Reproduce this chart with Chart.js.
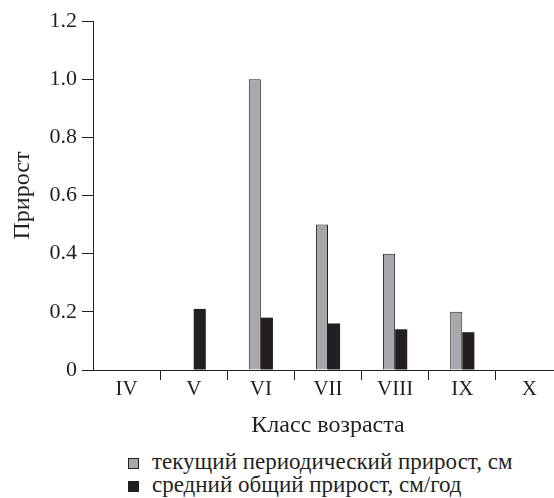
<!DOCTYPE html>
<html>
<head>
<meta charset="utf-8">
<script src="https://cdn.jsdelivr.net/npm/chart.js"></script>
<style>
  html, body { margin: 0; padding: 0; background: #fff; overflow: hidden; }
  #wrap { position: relative; width: 554px; height: 498px; overflow: hidden; }
  #growthChart { position: absolute; left: 0; top: 0; }
  #legend { position: absolute; left: 128px; top: 450px; font-family: 'Liberation Serif', serif; font-size: 23px; color: #231f20; line-height: 23px; }
  #legend .item { white-space: nowrap; }
  #legend .box { display: inline-block; width: 11px; height: 11px; margin-right: 13px; vertical-align: 0px; box-sizing: border-box; }
</style>
</head>
<body>
<div id="wrap">
  <canvas id="growthChart" width="563" height="440"></canvas>
  <div id="legend"></div>
</div>
<script>
var ageClasses   = ["IV", "V", "VI", "VII", "VIII", "IX", "X"];
var periodicGain = [0, 0, 1.0, 0.5, 0.4, 0.2, 0];
var meanGain     = [0, 0.21, 0.18, 0.16, 0.14, 0.13, 0];
var yTicks       = [0, 0.2, 0.4, 0.6, 0.8, 1.0, 1.2];

var seriesNames  = ["текущий периодический прирост, см", "средний общий прирост, см/год"];
var ink  = "#231f20",
    grey = "#a7a8ab";
var serif = "'Liberation Serif', serif";

Chart.defaults.font.family = serif;

var config = {
  type: 'bar',
  data: {
    labels: ageClasses,
    datasets: [{
      label: seriesNames[0],
      data: periodicGain,
      backgroundColor: grey,
      borderColor: ink,
      borderWidth: 1,
      borderSkipped: 'bottom'
    }, {
      label: seriesNames[1],
      data: meanGain,
      backgroundColor: ink,
      borderColor: ink,
      borderWidth: 0
    }]
  },
  options: {
    responsive: false,
    animation: false,
    categoryPercentage: 0.36,
    barPercentage: 1,
    layout: { padding: { top: 21, left: 0, right: 0, bottom: 0 } },
    plugins: {
      legend: { display: false },
      tooltip: { enabled: false }
    },
    scales: {
      x: {
        offset: true,
        border: { color: ink, width: 1 },
        grid: {
          offset: true,
          drawOnChartArea: false,
          drawTicks: true,
          tickLength: 10,
          color: function(ctx) { return ctx.index === 0 ? 'rgba(0,0,0,0)' : ink; }
        },
        ticks: { color: ink, font: { size: 21 }, padding: -3 },
        title: { display: true, text: 'Класс возраста', color: ink, font: { size: 24 }, padding: { top: 5, bottom: 0 } },
        afterFit: function(scale) { scale.height = 70; }
      },
      y: {
        min: 0,
        max: 1.2,
        afterBuildTicks: function(scale) {
          scale.ticks = yTicks.map(function(v) { return { value: v }; });
        },
        border: { color: ink, width: 1 },
        grid: { drawOnChartArea: false, drawTicks: true, tickLength: 11, color: ink },
        ticks: {
          color: ink,
          font: { size: 22 },
          padding: 5,
          callback: function(v) { return v === 0 ? '0' : Number(v).toFixed(1); }
        },
        title: { display: true, text: 'Прирост', color: ink, font: { size: 24 }, padding: { top: 8, bottom: 0 } },
        afterFit: function(scale) { scale.width = 93; }
      }
    }
  }
};

var ctx = document.getElementById('growthChart').getContext('2d');
var growthChart = new Chart(ctx, config);

// legend stacked in two left aligned rows, as in the figure
var legend = document.getElementById('legend');
config.data.datasets.forEach(function(ds) {
  var row = document.createElement('div');
  row.className = 'item';
  var box = document.createElement('span');
  box.className = 'box';
  box.style.background = ds.backgroundColor;
  box.style.border = '1px solid ' + ink;
  row.appendChild(box);
  row.appendChild(document.createTextNode(ds.label));
  legend.appendChild(row);
});
</script>
</body>
</html>
